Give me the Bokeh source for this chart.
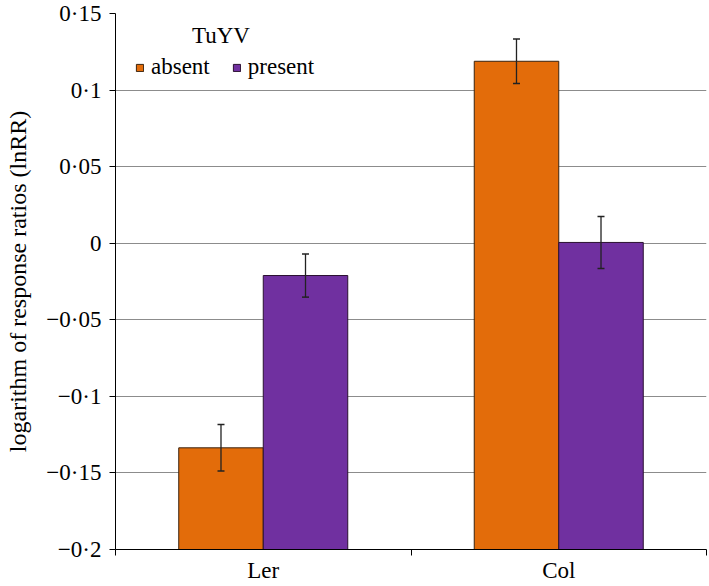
from bokeh.plotting import figure
from bokeh.models import (ColumnDataSource, Range1d, FixedTicker, CustomJSTickFormatter,
                          Whisker, TeeHead, Legend, LegendItem, Label)
from bokeh.transform import dodge
from bokeh.embed import file_html
from bokeh.resources import INLINE

categories = ["Ler", "Col"]
absent = [-0.1336, 0.1188]
absent_err = [0.0152, 0.0145]
present = [-0.0211, 0.0005]
present_err = [0.0141, 0.0170]
y_ticks = [-0.2, -0.15, -0.1, -0.05, 0, 0.05, 0.1, 0.15]
series_names = ["absent", "present"]
legend_title = "TuYV"

FONT = "Liberation Serif"
ORANGE = "#E36C0A"
PURPLE = "#7030A0"

x_centers = [i + 0.5 for i in range(len(categories))]
src = ColumnDataSource(dict(
    x=x_centers,
    absent=absent,
    present=present,
    a_up=[v + e for v, e in zip(absent, absent_err)],
    a_lo=[v - e for v, e in zip(absent, absent_err)],
    p_up=[v + e for v, e in zip(present, present_err)],
    p_lo=[v - e for v, e in zip(present, present_err)],
))

p = figure(width=708, height=585, output_backend="svg", toolbar_location=None,
           x_range=Range1d(0, len(categories)), y_range=Range1d(-0.2, 0.15),
           min_border_left=115, min_border_right=2, min_border_top=13, min_border_bottom=34)
p.outline_line_color = None
p.background_fill_color = "white"

w = 0.286
r_a = p.vbar(x=dodge("x", -w / 2, range=p.x_range), top="absent", bottom=-0.2, width=w, source=src,
             fill_color=ORANGE, line_color="#3a2410", line_width=1)
r_p = p.vbar(x=dodge("x", w / 2, range=p.x_range), top="present", bottom=-0.2, width=w, source=src,
             fill_color=PURPLE, line_color="#2a1030", line_width=1)

for base_off, up, lo in [(-w / 2, "a_up", "a_lo"), (w / 2, "p_up", "p_lo")]:
    wh = Whisker(base=dodge("x", base_off, range=p.x_range), upper=up, lower=lo, source=src,
                 line_color="#222222", line_width=1.3, level="overlay",
                 upper_head=TeeHead(size=7, line_color="#222222", line_width=1.5),
                 lower_head=TeeHead(size=7, line_color="#222222", line_width=1.5))
    p.add_layout(wh)

# grid
p.xgrid.grid_line_color = None
p.ygrid.ticker = FixedTicker(ticks=y_ticks)
p.ygrid.grid_line_color = "#8c8c8c"
p.ygrid.grid_line_width = 1.2
p.ygrid.level = "underlay"

# y axis
p.yaxis.ticker = FixedTicker(ticks=y_ticks)
p.yaxis.formatter = CustomJSTickFormatter(code="""
    if (Math.abs(tick) < 1e-9) return "0";
    let s = Math.abs(tick).toFixed(2).replace(/0+$/, "");
    s = s.replace(".", "\u00b7");
    return (tick < 0 ? "\u2212" : "") + s;
""")
p.yaxis.axis_label = "logarithm of response ratios (lnRR)"
p.yaxis.axis_label_text_font = FONT
p.yaxis.axis_label_text_font_style = "normal"
p.yaxis.axis_label_text_font_size = "24px"
p.yaxis.axis_label_text_color = "black"
p.yaxis.axis_label_standoff = 12
p.yaxis.major_label_text_font = FONT
p.yaxis.major_label_text_font_size = "23px"
p.yaxis.major_label_text_color = "black"
p.yaxis.major_label_standoff = 8
p.yaxis.major_tick_in = 0
p.yaxis.major_tick_out = 6
p.yaxis.minor_tick_line_color = None
p.yaxis.axis_line_color = "black"
p.yaxis.major_tick_line_color = "black"

# x axis
p.xaxis.ticker = FixedTicker(ticks=x_centers, minor_ticks=list(range(len(categories) + 1)))
p.xaxis.major_label_overrides = {x: c for x, c in zip(x_centers, categories)}
p.xaxis.major_tick_line_color = None
p.xaxis.major_tick_in = 0
p.xaxis.major_tick_out = 0
p.xaxis.minor_tick_in = 0
p.xaxis.minor_tick_out = 6
p.xaxis.minor_tick_line_color = "black"
p.xaxis.axis_line_color = "black"
p.xaxis.major_label_text_font = FONT
p.xaxis.major_label_text_font_size = "23px"
p.xaxis.major_label_text_color = "black"
p.xaxis.major_label_standoff = 2

# legend
legend = Legend(items=[LegendItem(label=series_names[0], renderers=[r_a]),
                       LegendItem(label=series_names[1], renderers=[r_p])],
                orientation="horizontal", location=(20, 469),
                border_line_color=None, background_fill_alpha=0,
                label_text_font=FONT, label_text_font_size="23px", label_text_color="black",
                glyph_width=9, glyph_height=9, label_standoff=7, spacing=22,
                padding=2, margin=0)
p.add_layout(legend)

title = Label(x=0.357, y=0.1357, text=legend_title,
              text_font=FONT, text_font_size="23px", text_color="black",
              text_align="center", text_baseline="middle")
p.add_layout(title)

open("out.html", "w").write(file_html(p, INLINE))
